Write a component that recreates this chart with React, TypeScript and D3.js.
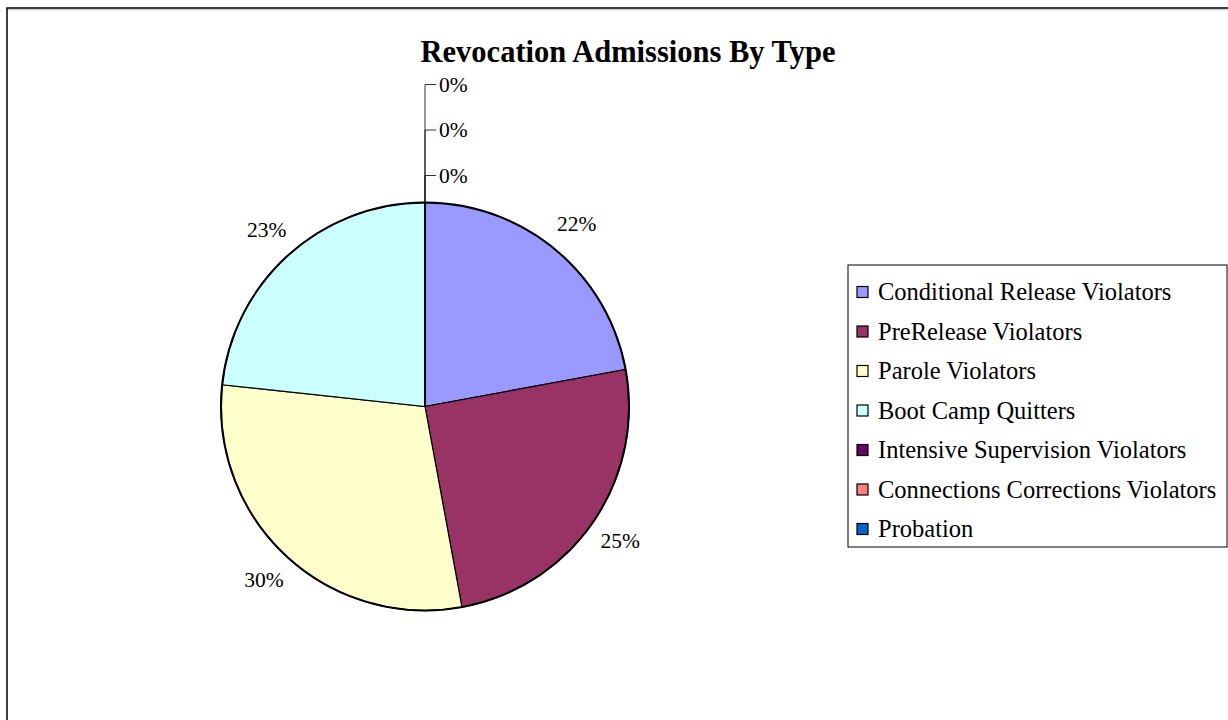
import React from 'react'
import * as d3 from 'd3'

const categories = [
  'Conditional Release Violators',
  'PreRelease Violators',
  'Parole Violators',
  'Boot Camp Quitters',
  'Intensive Supervision Violators',
  'Connections Corrections Violators',
  'Probation',
]
const shares = [22.1, 25.0, 29.6, 23.3, 0, 0, 0]
const colors = ['#9999FF', '#993366', '#FFFFCC', '#CCFFFF', '#660066', '#FF8080', '#0066CC']
const title = 'Revocation Admissions By Type'

const W = 1228
const H = 720
const FONT = '"Times New Roman", "Liberation Serif", serif'

export default function App() {
  const cx = 425
  const cy = 406.5
  const r = 204
  const labelR = 237

  const total = d3.sum(shares)
  const pie = d3.pie<number>().sort(null).value((d) => d)
  const arcs = pie(shares)
  const arc = d3.arc<d3.PieArcDatum<number>>().innerRadius(0).outerRadius(r)
  const fmt = (v: number) => `${Math.round((v / total) * 100)}%`

  // zero slices stack their labels above the top of the pie
  const zeroIdx = arcs.map((a, i) => (a.value === 0 ? i : -1)).filter((i) => i >= 0)
  const zeroY = (k: number) => cy - r - 27 - (zeroIdx.length - 1 - k) * 45.5

  const legendY = d3.scalePoint<string>().domain(categories).range([292, 529])

  return (
    <div style={{ position: 'absolute', left: 0, top: 0 }}>
      <svg width={W} height={H} style={{ display: 'block', background: '#fff' }} fontFamily={FONT}>
        {/* chart frame */}
        <path d={`M7,${H + 5} V8 H${W + 5}`} fill="none" stroke="#000" strokeWidth={1.5} />
        <line x1={8} x2={W} y1={9.8} y2={9.8} stroke="#bbb" strokeWidth={1} />

        <text x={628} y={62} textAnchor="middle" fontWeight="bold" fontSize={30.5}>
          {title}
        </text>

        <g transform={`translate(${cx},${cy})`}>
          {arcs.map((a, i) => (
            <path key={i} d={arc(a) || ''} fill={colors[i]} stroke="#000" strokeWidth={1.2} />
          ))}
          <circle r={r} fill="none" stroke="#000" strokeWidth={2} />
          {arcs.map((a, i) => {
            if (a.value === 0) return null
            const m = (a.startAngle + a.endAngle) / 2
            return (
              <text
                key={'l' + i}
                x={labelR * Math.sin(m)}
                y={-labelR * Math.cos(m) + 7}
                textAnchor="middle"
                fontSize={21.5}
              >
                {fmt(a.value)}
              </text>
            )
          })}
        </g>

        {zeroIdx.map((i, k) => {
          const y = zeroY(k)
          return (
            <g key={'z' + i}>
              <path
                d={`M${cx},${cy - r} V${y} H${cx + 11}`}
                fill="none"
                stroke="#000"
                strokeWidth={0.8}
              />
              <text x={cx + 14} y={y + 7} fontSize={21.5}>
                {fmt(shares[i])}
              </text>
            </g>
          )
        })}

        {/* legend */}
        <rect x={848} y={265} width={379} height={282} fill="#fff" stroke="#000" strokeWidth={1} />
        {categories.map((c, i) => {
          const y = legendY(c) as number
          return (
            <g key={c}>
              <rect x={857} y={y - 5.5} width={11} height={11} fill={colors[i]} stroke="#000" strokeWidth={1.2} />
              <text x={878} y={y + 8} fontSize={24.5}>
                {c}
              </text>
            </g>
          )
        })}
      </svg>
    </div>
  )
}
